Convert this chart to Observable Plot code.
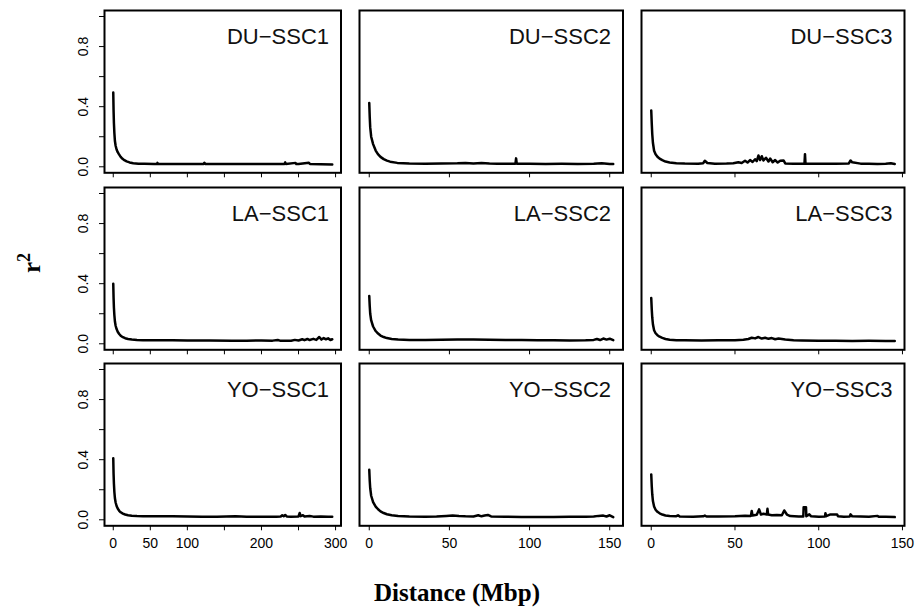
<!DOCTYPE html>
<html><head><meta charset="utf-8">
<script src="https://cdn.jsdelivr.net/npm/d3@7"></script>
<script src="https://cdn.jsdelivr.net/npm/@observablehq/plot@0.6"></script>
<style>
body{margin:0;background:#fff}
#chart{position:relative;width:917px;height:613px;overflow:hidden;background:#fff}
.panel{position:absolute}
</style></head>
<body><div id="chart"></div>
<script>
// ---- values (distance in Mbp, r^2) ----
const du1Dist = [0,0.4,0.9,1.5,2.2,3.2,4.5,6,7.6,10,12.5,15,18,22,27,34,42,55,59,59.6,60.5,80,100,122,123,124,150,180,200,220,231,232,233,246,247,250,264,265.5,280,295.5];
const du1R2   = [0.495,0.38,0.29,0.225,0.173,0.14,0.115,0.097,0.084,0.066,0.053,0.044,0.036,0.029,0.024,0.021,0.02,0.019,0.019,0.026,0.019,0.019,0.018,0.019,0.027,0.019,0.019,0.018,0.019,0.018,0.019,0.029,0.019,0.026,0.018,0.019,0.027,0.018,0.017,0.016];
const du2Dist = [0,0.3,0.6,1.2,2.4,4,5.4,7,9,11,13,17.5,25,35,45,55,60,65,70,75,80,91.2,91.6,92.0,100,110,120,130,140,145,150,152.2];
const du2R2   = [0.424,0.33,0.262,0.2,0.151,0.108,0.084,0.066,0.051,0.041,0.034,0.026,0.022,0.021,0.022,0.023,0.026,0.022,0.025,0.022,0.021,0.021,0.056,0.021,0.02,0.019,0.02,0.019,0.02,0.023,0.018,0.019];
const du3Dist = [0,0.3,0.6,1.0,1.7,2.6,3.7,5,6.6,8.5,11,15,20,28,31,32,33.5,38,45,49,52,54,56,57.5,59,60.5,62,63,64,65,66,67,68.5,70,71,72.5,74,75.5,77,79,80,85,91.5,91.8,92.1,100,110,118,119,120,125,130,135,140,143,145.4];
const du3R2   = [0.375,0.29,0.218,0.16,0.107,0.083,0.067,0.054,0.044,0.035,0.029,0.024,0.022,0.021,0.024,0.04,0.025,0.021,0.022,0.024,0.03,0.025,0.04,0.028,0.045,0.032,0.05,0.038,0.075,0.045,0.07,0.042,0.06,0.035,0.055,0.03,0.045,0.028,0.04,0.042,0.022,0.02,0.021,0.084,0.021,0.02,0.021,0.022,0.042,0.03,0.021,0.021,0.019,0.021,0.024,0.018];

const la1Dist = [0,0.4,0.9,1.5,2.2,3.2,4.5,6,8,10,13,16,20,25,32,40,60,80,100,130,160,180,200,215,222,225,240,245,250,255,258,262,265,270,274,278,281,284,287,290,293,295.5];
const la1R2   = [0.40,0.31,0.24,0.19,0.15,0.12,0.098,0.08,0.065,0.054,0.044,0.037,0.032,0.028,0.025,0.024,0.024,0.023,0.022,0.022,0.021,0.021,0.022,0.021,0.025,0.021,0.02,0.026,0.022,0.03,0.024,0.032,0.025,0.033,0.026,0.045,0.028,0.038,0.03,0.036,0.025,0.03];
const la2Dist = [0,0.3,0.6,1.2,2.4,4,5.5,7,9,11,14,18,25,35,45,55,65,75,85,95,105,115,125,135,140,142,144,146,148,150,152.2];
const la2R2   = [0.318,0.25,0.2,0.155,0.115,0.085,0.068,0.055,0.045,0.038,0.032,0.028,0.026,0.026,0.027,0.028,0.029,0.027,0.026,0.025,0.024,0.023,0.022,0.023,0.026,0.032,0.025,0.035,0.028,0.034,0.024];
const la3Dist = [0,0.3,0.6,1.0,1.7,2.6,3.7,5,6.6,8.5,11,15,20,30,40,50,55,58,60,62,64,66,68,70,72,74,76,80,85,90,100,110,120,130,140,145.4];
const la3R2   = [0.304,0.23,0.175,0.13,0.09,0.07,0.057,0.047,0.039,0.032,0.027,0.024,0.023,0.022,0.023,0.024,0.027,0.032,0.04,0.036,0.045,0.035,0.04,0.033,0.038,0.03,0.035,0.028,0.024,0.022,0.02,0.021,0.019,0.02,0.019,0.018];

const yo1Dist = [0,0.4,0.9,1.5,2.2,3.2,4.5,6,8,10,13,16,20,25,32,40,60,80,100,120,140,165,180,200,220,226,228,230,232,234,240,250,251.5,253,256,258,265,270,280,290,295.5];
const yo1R2   = [0.41,0.31,0.24,0.185,0.145,0.115,0.092,0.075,0.06,0.05,0.041,0.035,0.03,0.027,0.025,0.024,0.024,0.023,0.022,0.021,0.021,0.023,0.021,0.02,0.02,0.022,0.03,0.024,0.032,0.022,0.021,0.022,0.045,0.024,0.03,0.022,0.025,0.021,0.022,0.02,0.02];
const yo2Dist = [0,0.3,0.6,1.2,2.4,4,5.5,7,9,11,14,18,25,35,42,48,52,56,60,65,68,70,72,74,76,85,95,105,115,125,135,140,143,146,148,150,152.2];
const yo2R2   = [0.333,0.26,0.21,0.16,0.118,0.088,0.07,0.056,0.045,0.037,0.03,0.025,0.022,0.021,0.022,0.026,0.028,0.025,0.023,0.022,0.03,0.023,0.028,0.032,0.022,0.02,0.019,0.019,0.019,0.02,0.02,0.022,0.026,0.028,0.022,0.03,0.018];
const yo3Dist = [0,0.3,0.6,1.0,1.7,2.6,3.7,5,6.6,8.5,11,15,16,17,25,31,32,33,40,50,56,59.5,60,60.5,63,64.4,65.5,67,69,69.4,69.8,72,75,78,79.4,81,83,88,90.8,91,92.4,92.6,94.4,95.5,100,103.8,104,104.5,107,111,111.5,115,118.5,119,120,130,135,136,140,145.4];
const yo3R2   = [0.302,0.225,0.17,0.125,0.088,0.067,0.053,0.043,0.035,0.029,0.025,0.024,0.03,0.022,0.021,0.023,0.028,0.022,0.022,0.024,0.027,0.026,0.058,0.028,0.033,0.069,0.035,0.04,0.035,0.073,0.035,0.03,0.032,0.03,0.062,0.035,0.025,0.022,0.022,0.084,0.084,0.024,0.036,0.023,0.021,0.022,0.044,0.024,0.036,0.036,0.023,0.021,0.022,0.036,0.023,0.02,0.026,0.02,0.021,0.018];

const panelLabels = ["DU−SSC1","DU−SSC2","DU−SSC3","LA−SSC1","LA−SSC2","LA−SSC3","YO−SSC1","YO−SSC2","YO−SSC3"];
const colMax   = [295.5, 152.2, 145.4];
const colTicks = [[0,50,100,150,200,250,300],[0,50,100,150],[0,50,100,150]];
const colTickLabels = [[0,50,100,200,300],[0,50,100,150],[0,50,100,150]];
const yTicks = [0,0.2,0.4,0.6,0.8,1.0];
const yTickLabels = [0,0.4,0.8];
const xTitle = "Distance (Mbp)";

// ---- layout ----
const colFrames = [[103.5,340],[358.5,622],[640.5,903.5]];
const rowFrames = [[10,172.3],[186.7,349],[363.4,525.7]];
const series = [[du1Dist,du1R2],[du2Dist,du2R2],[du3Dist,du3R2],[la1Dist,la1R2],[la2Dist,la2R2],[la3Dist,la3R2],[yo1Dist,yo1R2],[yo2Dist,yo2R2],[yo3Dist,yo3R2]];

const chart = document.getElementById("chart");
const mL = 45, mR = 6, mT = 6, mB = 32;

series.forEach(([dist, r2], i) => {
  const row = Math.floor(i / 3), col = i % 3;
  const [fx0, fx1] = colFrames[col], [fy0, fy1] = rowFrames[row];
  const fw = fx1 - fx0, fh = fy1 - fy0;
  const data = dist.map((d, k) => ({d, r2: r2[k]}));
  const xmax = colMax[col];
  const marks = [
    Plot.line(data, {x: "d", y: "r2", stroke: "black", strokeWidth: 2.5, strokeLinejoin: "round"}),
    Plot.frame({stroke: "black", strokeWidth: 2}),
    Plot.text([panelLabels[i]], {text: d => d, frameAnchor: "top-right", dx: -12, dy: 18, lineAnchor: "top", fontSize: 22, fill: "#111"}),
    Plot.axisX({ticks: colTicks[col], tickSize: 5, tickPadding: 7, fontSize: 14, label: null,
      tickFormat: d => (row === 2 && colTickLabels[col].includes(d)) ? String(d) : ""})
  ];
  if (col === 0) {
    marks.push(Plot.axisY({ticks: yTicks, tickSize: 5, tickPadding: 11.5, tickRotate: -90, label: null,
      textAnchor: "middle", lineAnchor: "bottom", fontSize: 14,
      tickFormat: d => yTickLabels.includes(d) ? d.toFixed(1) : ""}));
  }
  const svg = Plot.plot({
    width: fw + mL + mR, height: fh + mT + mB,
    marginLeft: mL, marginRight: mR, marginTop: mT, marginBottom: mB,
    x: {domain: [-0.04 * xmax, 1.04 * xmax], label: null},
    y: {domain: [-0.04, 1.04], label: null, axis: col === 0 ? undefined : null},
    style: {background: "none", overflow: "visible", fontFamily: "'Liberation Sans', Arial, sans-serif", fontSize: "14px", color: "black", maxWidth: "none"},
    marks
  });
  svg.classList.add("panel");
  svg.style.left = (fx0 - mL) + "px";
  svg.style.top = (fy0 - mT) + "px";
  chart.appendChild(svg);
});

// ---- outer titles ----
const ov = d3.select(chart).append("svg")
  .attr("width", 917).attr("height", 613)
  .style("position", "absolute").style("left", "0px").style("top", "0px").style("pointer-events", "none");
const yt = ov.append("text")
  .attr("transform", "translate(40,263) rotate(-90)")
  .attr("text-anchor", "middle")
  .style("font-family", "'Liberation Serif', 'DejaVu Serif', serif")
  .style("font-weight", "bold").style("font-size", "25px");
yt.append("tspan").text("r");
yt.append("tspan").attr("dy", -10).style("font-size", "18px").text("2");
ov.append("text")
  .attr("x", 457).attr("y", 601)
  .attr("text-anchor", "middle")
  .style("font-family", "'Liberation Serif', 'DejaVu Serif', serif")
  .style("font-weight", "bold").style("font-size", "25px")
  .text(xTitle);
</script>
</body></html>
